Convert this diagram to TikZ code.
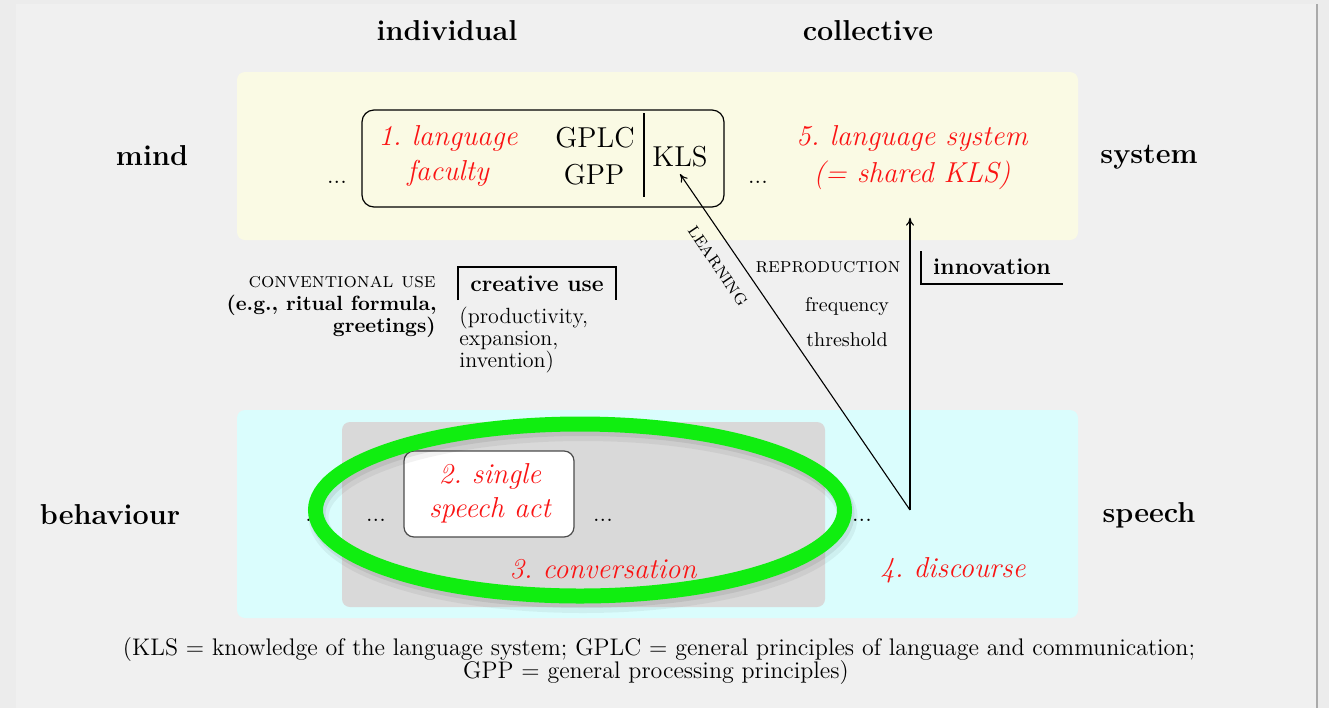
\documentclass[tikz,border=0pt]{standalone}
\usetikzlibrary{arrows.meta}

\definecolor{pagebg}{RGB}{236,236,236}
\definecolor{sheet}{RGB}{240,240,240}
\definecolor{edgegray}{RGB}{170,170,170}
\definecolor{mindfill}{RGB}{250,250,228}
\definecolor{speechfill}{RGB}{218,253,253}
\definecolor{convfill}{RGB}{217,217,217}
\definecolor{stagered}{RGB}{250,20,20}
\definecolor{marker}{RGB}{16,238,16}

\newcommand\setfs[1]{\fontsize{#1}{#1}\selectfont}

\tikzset{
  head/.style={font=\setfs{14.4}\bfseries, anchor=base, inner sep=0pt},
  stage/.style={text=stagered, font=\setfs{14.4}\itshape, anchor=base, inner sep=0pt},
  plain/.style={font=\setfs{14.4}, anchor=base, inner sep=0pt},
  label/.style={font=\setfs{11}, anchor=base, inner sep=0pt},
  boldlabel/.style={font=\setfs{11.5}\bfseries, anchor=base, inner sep=0pt},
  sclabel/.style={font=\setfs{10.5}\scshape, anchor=base, inner sep=0pt},
  tinylabel/.style={font=\setfs{10}, anchor=base, inner sep=0pt},
  footlabel/.style={font=\setfs{12}, anchor=base, inner sep=0pt},
  ellip/.style={font=\setfs{12}, anchor=base, inner sep=0pt},
  panel/.style={rounded corners=4pt},
  flow/.style={-{To[length=4pt,width=4pt]}, line width=0.55pt},
  bracket/.style={line width=0.6pt},
}

\begin{document}
\begin{tikzpicture}[x=0.5pt, y=-0.5pt]
  \useasboundingbox (0,0) rectangle (1329,708);

  % page background
  \fill[pagebg] (0,0) rectangle (1329,708);
  \fill[sheet] (16,4) rectangle (1316,708);
  \draw[edgegray, line width=0.6pt] (1317,4) -- (1317,708);

  % column and row headings
  \node[head] (hind) at (447,40) {individual};
  \node[head] (hcol) at (868,40) {collective};
  \node[head] (hmind) at (152,165) {mind};
  \node[head] (hsys) at (1149,163) {system};
  \node[head] (hbeh) at (110,524) {behaviour};
  \node[head] (hspe) at (1149,522) {speech};

  % mind panel
  \fill[mindfill, panel] (237,72) rectangle (1078,240);
  \draw[line width=0.6pt, rounded corners=6pt] (362,110) rectangle (724,207);
  \draw[line width=0.6pt] (644,113) -- (644,197);
  \node[stage] (fac1) at (448,145) {1.\ language};
  \node[stage] (fac2) at (448,180) {faculty};
  \node[plain] (gplc) at (595,147) {GPLC};
  \node[plain] (gpp) at (594,184) {GPP};
  \node[plain, inner sep=3.5pt] (kls) at (680,166) {KLS};
  \node[ellip] (dotsA) at (337,183) {...};
  \node[ellip] (dotsB) at (758,183) {...};
  \node[stage] (lsys1) at (912,145) {5.\ language system};
  \node[stage] (lsys2) at (912,182) {(= shared KLS)};

  % middle band: kinds of use
  \node[sclabel, anchor=base east] (conv) at (436,287) {conventional use};
  \node[font=\setfs{10.3}\bfseries, anchor=base east, inner sep=0pt] (conv1) at (437,310) {(e.g., ritual formula,};
  \node[font=\setfs{10.3}\bfseries, anchor=base east, inner sep=0pt] (conv2) at (436,332) {greetings)};
  \node[boldlabel] (crea) at (537,291) {creative use};
  \draw[bracket] (458,300) -- (458,267) -- (616,267) -- (616,300);
  \node[label, anchor=base west] (crea1) at (459,323) {(productivity,};
  \node[label, anchor=base west] (crea2) at (459,345) {expansion,};
  \node[label, anchor=base west] (crea3) at (459,367) {invention)};

  \node[sclabel] (repro) at (828,272) {reproduction};
  \node[tinylabel] (freq) at (847,311) {frequency};
  \node[tinylabel] (thr) at (847,346) {threshold};
  \node[boldlabel] (innov) at (992,274) {innovation};
  \draw[bracket] (921,251) -- (921,284) -- (1063,284);

  % speech panel
  \fill[speechfill, panel] (237,410) rectangle (1078,618);
  \fill[convfill, panel] (342,422) rectangle (825,607);
  \draw[fill=white, draw=black!70, line width=0.6pt, rounded corners=5pt] (404,451) rectangle (574,537);
  \node[stage] (act1) at (490,483) {2.\ single};
  \node[stage] (act2) at (490,517) {speech act};
  \node[ellip, anchor=base west] (dotsC) at (305,521) {...};
  \node[ellip] (dotsD) at (376,521) {...};
  \node[ellip] (dotsE) at (603,521) {...};
  \node[ellip] (dotsF) at (862,521) {...};
  \fill (447,437) circle (0.8pt);
  \node[stage] (convers) at (603,578) {3.\ conversation};
  \node[stage] (disc) at (953,577) {4.\ discourse};

  % learning and reproduction arrows
  \coordinate (src) at (910,510);
  \draw[flow] (src) -- (kls.south);
  \draw[flow] (src) -- ([yshift=-14pt]src |- lsys2.south);
  \node[sclabel, anchor=center, rotate=-56] (learn) at (718,266) {learning};

  % highlight ring round the conversation, with a soft shadow
  \draw[black, opacity=0.05, line width=10pt] (583,517) ellipse [x radius=264.5, y radius=86];
  \draw[black, opacity=0.07, line width=8pt] (582,514) ellipse [x radius=264.5, y radius=86];
  \draw[marker, line width=7.5pt] (580,510) ellipse [x radius=264.5, y radius=86];

  % footnote
  \node[footlabel] (foot1) at (659,655) {(KLS = knowledge of the language system; GPLC = general principles of language and communication;};
  \node[footlabel] (foot2) at (656,678) {GPP = general processing principles)};
\end{tikzpicture}
\end{document}
